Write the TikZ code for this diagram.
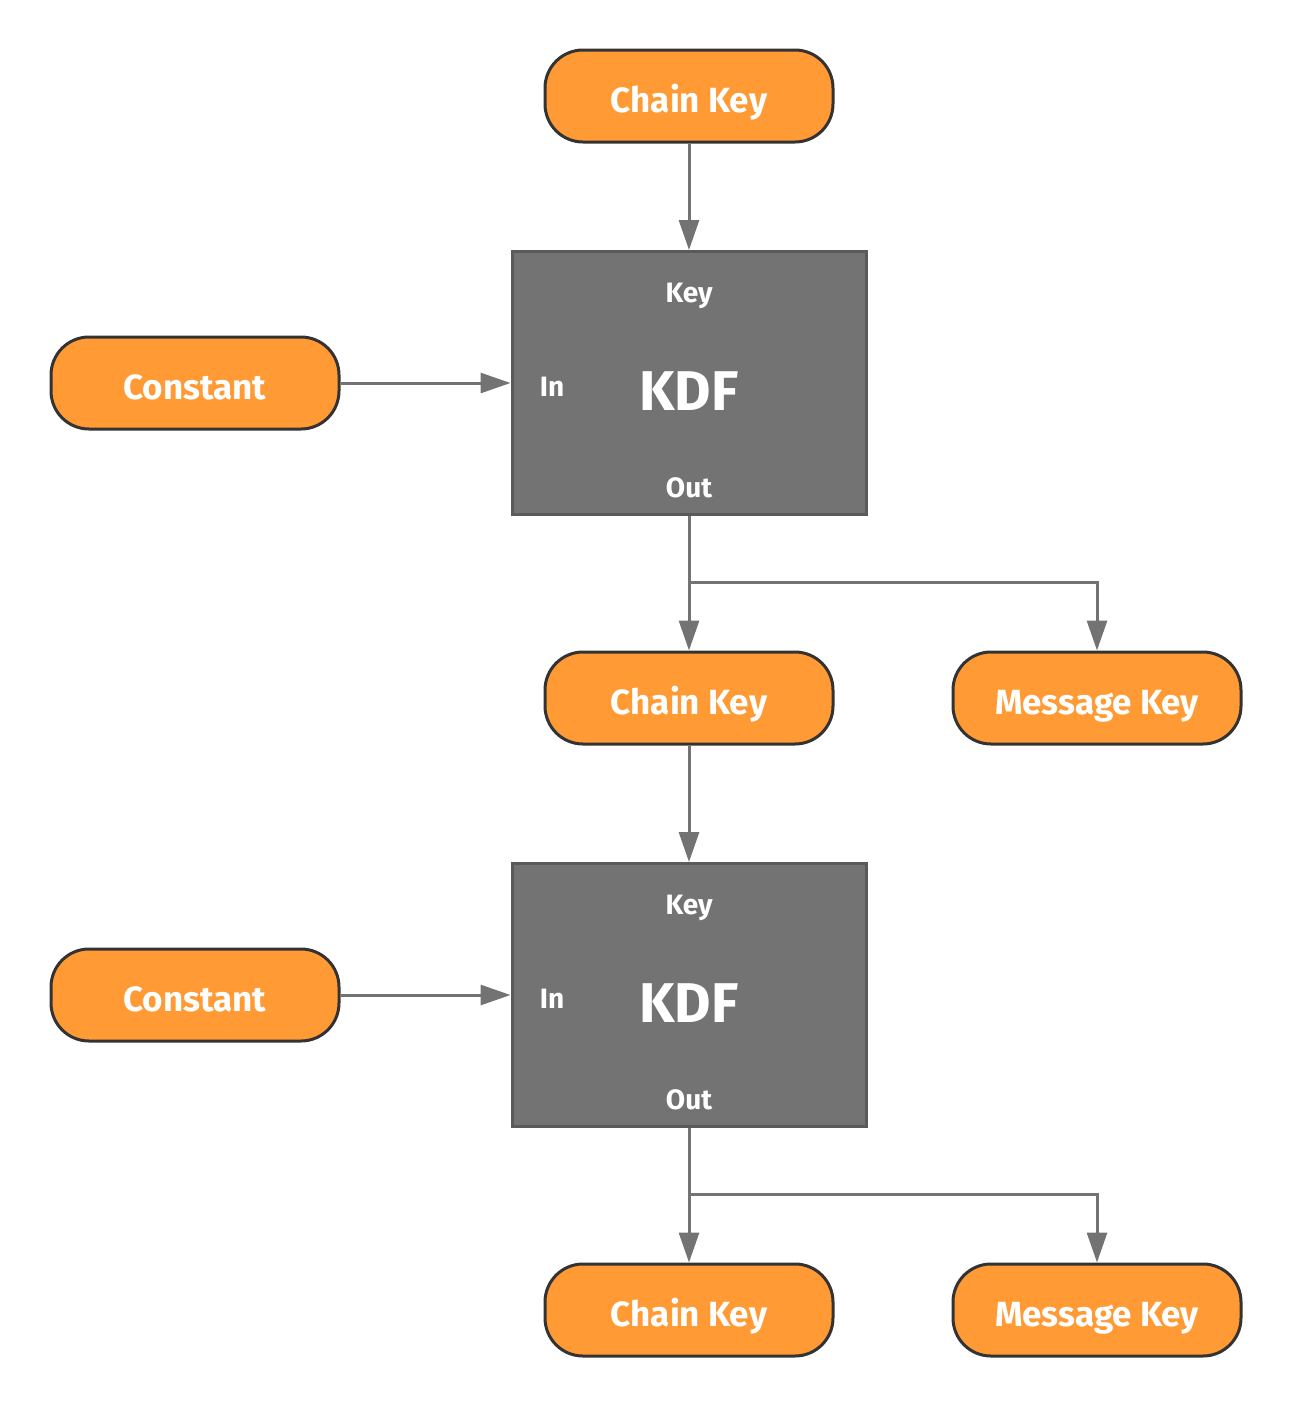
\documentclass[tikz,border=0pt]{standalone}
\usepackage{fontspec}
\setmainfont{Fira Sans}
\usetikzlibrary{arrows.meta}
\definecolor{orangefill}{HTML}{FF9A35}
\definecolor{darkline}{HTML}{333333}
\definecolor{kdffill}{HTML}{737373}
\definecolor{kdfline}{HTML}{5A5A5A}
\definecolor{arrowcol}{HTML}{737373}
\tikzset{
  pill/.style={draw=darkline, line width=3pt, fill=orangefill, rounded corners=38pt,
    minimum width=288pt, minimum height=92pt, inner sep=0pt, text=white,
    text height=32pt, text depth=0pt,
    font=\fontsize{35}{40}\selectfont\bfseries},
  kdfbox/.style={draw=kdfline, line width=3pt, fill=kdffill,
    minimum width=354pt, minimum height=263pt, inner sep=0pt},
  lbl/.style={text=white, font=\fontsize{28}{32}\selectfont\bfseries, inner sep=0pt, anchor=base},
  big/.style={text=white, font=\fontsize{56}{60}\selectfont\bfseries, inner sep=0pt, anchor=base},
  conn/.style={draw=arrowcol, line width=3pt, -{Triangle[length=30pt,width=20pt]}},
}
\begin{document}
\begin{tikzpicture}[x=1pt,y=-1pt]
\useasboundingbox (0,0) rectangle (1292,1406);
% top
\node[pill] (ck1) at (689,96) {Chain Key};
\node[kdfbox] (kdf1) at (689,383) {};
\node[lbl] (key1) at (689,302) {Key};
\node[lbl] (in1) at (552,396) {In};
\node[big] (k1) at (689,410) {KDF};
\node[lbl] (out1) at (689,497) {Out};
\node[pill] (c1) at (195,383) {Constant};
\node[pill] (ck2) at (689,698) {Chain Key};
\node[pill] (mk2) at (1097,698) {Message Key};
% bottom
\node[kdfbox] (kdf2) at (689,995) {};
\node[lbl] (key2) at (689,914) {Key};
\node[lbl] (in2) at (552,1008) {In};
\node[big] (k2) at (689,1022) {KDF};
\node[lbl] (out2) at (689,1109) {Out};
\node[pill] (c2) at (195,995) {Constant};
\node[pill] (ck3) at (689,1310) {Chain Key};
\node[pill] (mk3) at (1097,1310) {Message Key};
\coordinate (b1) at (689,582);
\coordinate (b2) at (689,1194);
% connectors
\draw[conn] (ck1) -- (kdf1);
\draw[conn] (c1) -- (kdf1);
\draw[conn] (kdf1) -- (ck2);
\draw[conn] (b1) -| (mk2.north);
\draw[conn] (ck2) -- (kdf2);
\draw[conn] (c2) -- (kdf2);
\draw[conn] (kdf2) -- (ck3);
\draw[conn] (b2) -| (mk3.north);
\end{tikzpicture}
\end{document}
